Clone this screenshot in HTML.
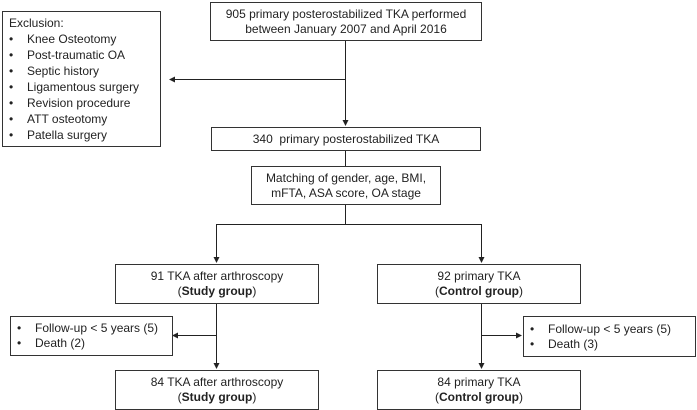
<!DOCTYPE html>
<html><head><style>
body{margin:0;width:697px;height:410px;background:#fff;position:relative;overflow:hidden;font-family:"Liberation Sans",sans-serif;color:#222}
.b{position:absolute;border:1px solid #333;box-sizing:border-box;font-size:12px;line-height:15px;text-align:center;display:flex;flex-direction:column;justify-content:center;white-space:nowrap}
.l{text-align:left;justify-content:flex-start}
ul{margin:0;padding:0;list-style:none}
li{position:relative;padding-left:24px}
li:before{content:"•";position:absolute;left:6px}
svg{position:absolute;left:0;top:0}
</style></head><body>
<svg width="697" height="410">
<defs><marker id="a" markerWidth="6" markerHeight="6" refX="5" refY="3" orient="auto"><path d="M0,0L6,3L0,6z" fill="#222"/></marker></defs>
<g stroke="#222" stroke-width="1" fill="none">
<line x1="345.5" y1="40" x2="345.5" y2="125" marker-end="url(#a)"/>
<line x1="345.5" y1="79.5" x2="170" y2="79.5" marker-end="url(#a)"/>
<line x1="345.5" y1="150" x2="345.5" y2="166"/>
<line x1="345.5" y1="204" x2="345.5" y2="224"/>
<line x1="216" y1="224.5" x2="481" y2="224.5"/>
<line x1="216.5" y1="224" x2="216.5" y2="262" marker-end="url(#a)"/>
<line x1="481.5" y1="224" x2="481.5" y2="262" marker-end="url(#a)"/>
<line x1="216.5" y1="303" x2="216.5" y2="368" marker-end="url(#a)"/>
<line x1="216.5" y1="335.5" x2="173" y2="335.5" marker-end="url(#a)"/>
<line x1="481.5" y1="303" x2="481.5" y2="368" marker-end="url(#a)"/>
<line x1="481.5" y1="335.5" x2="521" y2="335.5" marker-end="url(#a)"/>
</g></svg>
<div class="b l" style="left:2px;top:11px;width:159px;height:136px;padding:3px 0 0 6px;line-height:16px">Exclusion:<ul style="margin-left:-6px"><li>Knee Osteotomy</li><li>Post-traumatic OA</li><li>Septic history</li><li>Ligamentous surgery</li><li>Revision procedure</li><li>ATT osteotomy</li><li>Patella surgery</li></ul></div>
<div class="b" style="left:210px;top:2px;width:272px;height:39px">905 primary posterostabilized TKA performed<br>between January 2007 and April 2016</div>
<div class="b" style="left:211px;top:127px;width:270px;height:24px">340&nbsp; primary posterostabilized TKA</div>
<div class="b" style="left:251px;top:166px;width:190px;height:39px">Matching of gender, age, BMI,<br>mFTA, ASA score, OA stage</div>
<div class="b" style="left:115px;top:264px;width:204px;height:40px">91 TKA after arthroscopy<br><span>(<b>Study group</b>)</span></div>
<div class="b" style="left:377px;top:264px;width:204px;height:40px">92 primary TKA<br><span>(<b>Control group</b>)</span></div>
<div class="b l" style="left:10px;top:316px;width:163px;height:40px;justify-content:center"><ul><li>Follow-up &lt; 5 years (5)</li><li>Death (2)</li></ul></div>
<div class="b l" style="left:523px;top:316px;width:173px;height:41px;justify-content:center"><ul><li>Follow-up &lt; 5 years (5)</li><li>Death (3)</li></ul></div>
<div class="b" style="left:115px;top:370px;width:204px;height:40px">84 TKA after arthroscopy<br><span>(<b>Study group</b>)</span></div>
<div class="b" style="left:377px;top:370px;width:204px;height:40px">84 primary TKA<br><span>(<b>Control group</b>)</span></div>
</body></html>
